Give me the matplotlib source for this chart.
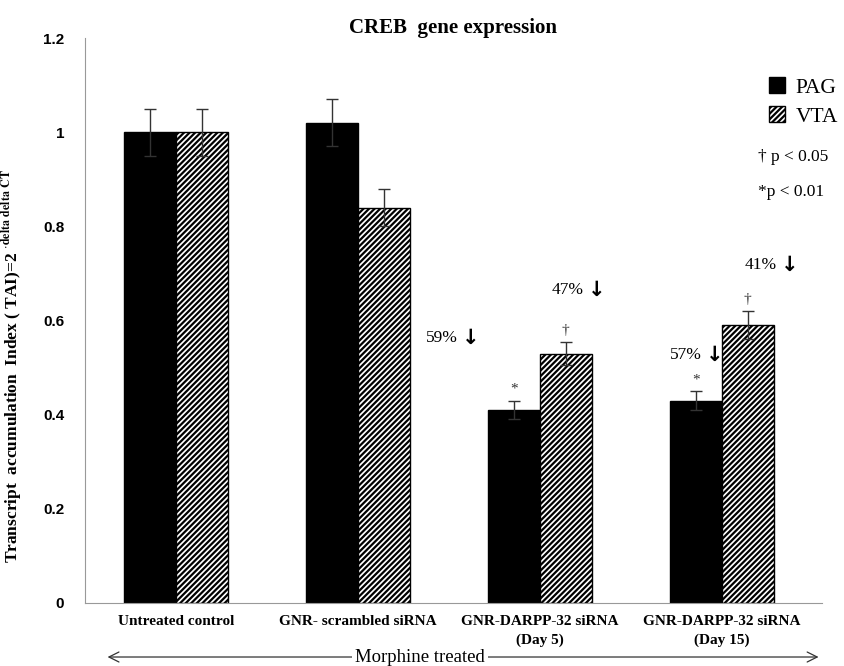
import numpy as np
import matplotlib.pyplot as plt
from matplotlib.patches import Patch, FancyArrowPatch

groups = ["Untreated control", "GNR- scrambled siRNA",
          "GNR-DARPP-32 siRNA\n(Day 5)", "GNR-DARPP-32 siRNA\n(Day 15)"]
pag = [1.0, 1.02, 0.41, 0.43]
pag_err = [0.05, 0.05, 0.02, 0.02]
vta = [1.0, 0.84, 0.53, 0.59]
vta_err = [0.05, 0.04, 0.025, 0.03]
pag_sig = ["", "", "*", "*"]
vta_sig = ["", "", "\u2020", "\u2020"]
yticks = [0, 0.2, 0.4, 0.6, 0.8, 1.0, 1.2]
ytick_labels = ["0", "0.2", "0.4", "0.6", "0.8", "1", "1.2"]

# percent decrease labels (text, x, y)
pct = [("59%", 1.55, 0.563), ("47%", 2.24, 0.665),
       ("57%", 2.89, 0.527), ("41%", 3.30, 0.718)]

serif = ["Liberation Serif", "DejaVu Serif"]
plt.rcParams['mathtext.fontset'] = 'stix'
plt.rcParams['hatch.linewidth'] = 1.6

fig = plt.figure(figsize=(8.45, 6.66), dpi=100)
ax = fig.add_axes([0.1006, 0.0946, 0.872, 0.848])

x = np.arange(len(groups))
w = 0.286
ax.bar(x - w/2, pag, w, color='black', edgecolor='black', linewidth=1)
ax.bar(x + w/2, vta, w, color='white', edgecolor='black', hatch='//////', linewidth=1)
ax.errorbar(x - w/2, pag, yerr=pag_err, fmt='none', ecolor='#333333', elinewidth=1, capsize=4, capthick=1)
ax.errorbar(x + w/2, vta, yerr=vta_err, fmt='none', ecolor='#333333', elinewidth=1, capsize=4, capthick=1)

for i in range(len(groups)):
    if pag_sig[i]:
        ax.text(x[i] - w/2, pag[i] + pag_err[i] + 0.01, pag_sig[i], ha='center', va='bottom',
                fontsize=11, family=serif, color='#333333')
    if vta_sig[i]:
        ax.text(x[i] + w/2, vta[i] + vta_err[i] + 0.01, vta_sig[i], ha='center', va='bottom',
                fontsize=11, family=serif, color='#333333')

for t, px, py in pct:
    ax.text(px, py, t, ha='right', va='center', fontsize=12.5, family=serif)
    ax.annotate("\u2193", (px, py), xytext=(3, 0), textcoords='offset points',
                ha='left', va='center', fontsize=15, fontweight='bold', family='DejaVu Sans')

ax.set_xlim(-0.5, 3.55)
ax.set_ylim(0, 1.2)
ax.set_yticks(yticks)
ax.set_yticklabels(ytick_labels, fontsize=11, fontweight='bold', family='Liberation Sans')
ax.set_xticks(x)
ax.set_xticklabels(groups, fontsize=11, fontweight='bold', family=serif, linespacing=1.45)
ax.tick_params(length=0, pad=9)
ax.tick_params(axis='y', pad=15)
for s in ['top', 'right']:
    ax.spines[s].set_visible(False)
for s in ['left', 'bottom']:
    ax.spines[s].set_color('#999999')

ax.set_title("CREB  gene expression", fontsize=15, fontweight='bold', family=serif, pad=4)
ax.set_ylabel(r"Transcript  accumulation  Index ( TAI)=2 $^{\cdot\mathbf{delta\ delta\ CT}}$",
              fontsize=12.5, fontweight='bold', family=serif)
ax.yaxis.set_label_coords(-0.082, 0.42)

handles = [Patch(facecolor='black', edgecolor='black'),
           Patch(facecolor='white', edgecolor='black', hatch='//////')]
leg = ax.legend(handles, ["PAG", "VTA"], loc='upper left', bbox_to_anchor=(0.913, 0.95),
                frameon=False, prop={'family': serif, 'size': 15.5}, handlelength=0.75,
                handleheight=0.75, handletextpad=0.5, labelspacing=0.4, borderpad=0)
ax.text(0.913, 0.789, "\u2020 p < 0.05", transform=ax.transAxes, fontsize=12.5, family=serif, va='center')
ax.text(0.913, 0.727, "*p < 0.01", transform=ax.transAxes, fontsize=12.5, family=serif, va='center')

# Morphine treated double arrow under the axis
fig.text(0.497, 0.0135, "Morphine treated", ha='center', va='center', fontsize=13.5, family=serif,
         bbox=dict(facecolor='white', edgecolor='none', pad=2), zorder=5)
fig.add_artist(FancyArrowPatch((0.124, 0.0135), (0.972, 0.0135), transform=fig.transFigure,
                               arrowstyle='<->', mutation_scale=18, lw=0.9, color='#333333'))

fig.savefig("out.png", dpi=100)
